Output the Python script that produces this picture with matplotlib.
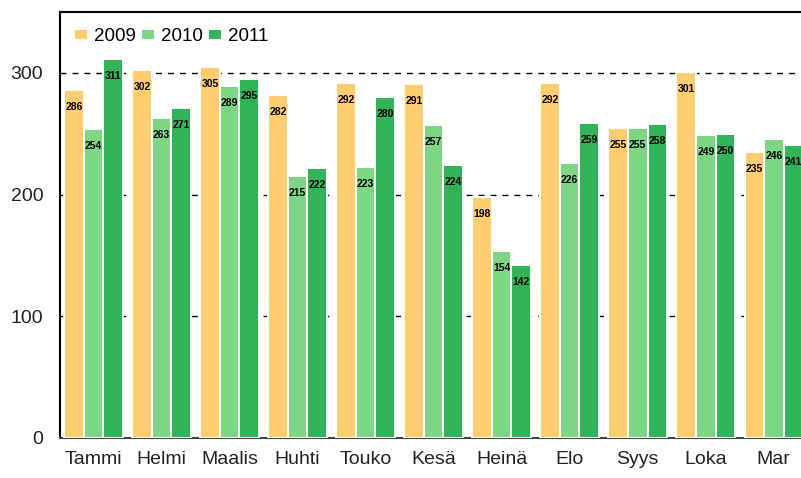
import matplotlib
matplotlib.use('Agg')
import matplotlib.pyplot as plt
from matplotlib import font_manager
import numpy as np

# DATA
months = ['Tammi', 'Helmi', 'Maalis', 'Huhti', 'Touko', 'Kesä', 'Heinä',
          'Elo', 'Syys', 'Loka', 'Mar']
years = ['2009', '2010', '2011']
v2009 = [286, 302, 305, 282, 292, 291, 198, 292, 255, 301, 235]
v2010 = [254, 263, 289, 215, 223, 257, 154, 226, 255, 249, 246]
v2011 = [311, 271, 295, 222, 280, 224, 142, 259, 258, 250, 241]
y_ticks = [0, 100, 200, 300]

colors = ['#FECD70', '#7ED585', '#32B35A']

plt.rcParams['font.family'] = ['Liberation Sans', 'DejaVu Sans']

# narrow font for the value labels if there is one
installed = {f.name for f in font_manager.fontManager.ttflist}
label_font = 'Liberation Sans Narrow' if 'Liberation Sans Narrow' in installed else 'Liberation Sans'
label_size = 8.5 if label_font == 'Liberation Sans Narrow' else 7.5

fig = plt.figure(figsize=(8.01, 4.78), dpi=100)
W, H = 801, 478
ax = fig.add_axes([60 / W, (H - 438) / H, (W - 60) / W, (438 - 12) / H])

x = np.arange(len(months))
w = 0.287

for i, (vals, yr) in enumerate(zip([v2009, v2010, v2011], years)):
    pos = x + (i - 1) * w
    bars = ax.bar(pos, vals, width=w, color=colors[i], edgecolor='white',
                  linewidth=1.4, label=yr, zorder=3)
    for b, v in zip(bars, vals):
        ax.annotate(str(v), (b.get_x() + b.get_width() / 2, v),
                    xytext=(0, -17), textcoords='offset pixels',
                    ha='center', va='center', fontsize=label_size,
                    family=label_font, fontweight='bold', color='black',
                    zorder=4)

ax.set_xlim(-0.493, 10.40)
ax.set_ylim(0, 350)
ax.set_yticks(y_ticks)
ax.set_xticks(x)
ax.set_xticklabels(months)

for yv in [100, 200, 300]:
    ax.axhline(yv, color='black', lw=1, linestyle=(0, (4.3, 4.3)), zorder=1)

ax.tick_params(axis='both', length=0, labelsize=14, colors='#222222')
ax.tick_params(axis='y', pad=12)
ax.tick_params(axis='x', pad=9)

ax.spines['right'].set_visible(False)
ax.spines['left'].set_linewidth(1.5)
ax.spines['top'].set_linewidth(1.5)
ax.spines['bottom'].set_linewidth(1.5)
ax.spines['bottom'].set_color('#444444')

ax.legend(loc='upper left', bbox_to_anchor=(14 / 741, 1 - 16 / 426),
          ncol=3, frameon=False, fontsize=13.5, borderpad=0,
          borderaxespad=0, handlelength=0.75, handleheight=0.55,
          handletextpad=0.3, columnspacing=0.3)

fig.savefig('out.png', dpi=100)
